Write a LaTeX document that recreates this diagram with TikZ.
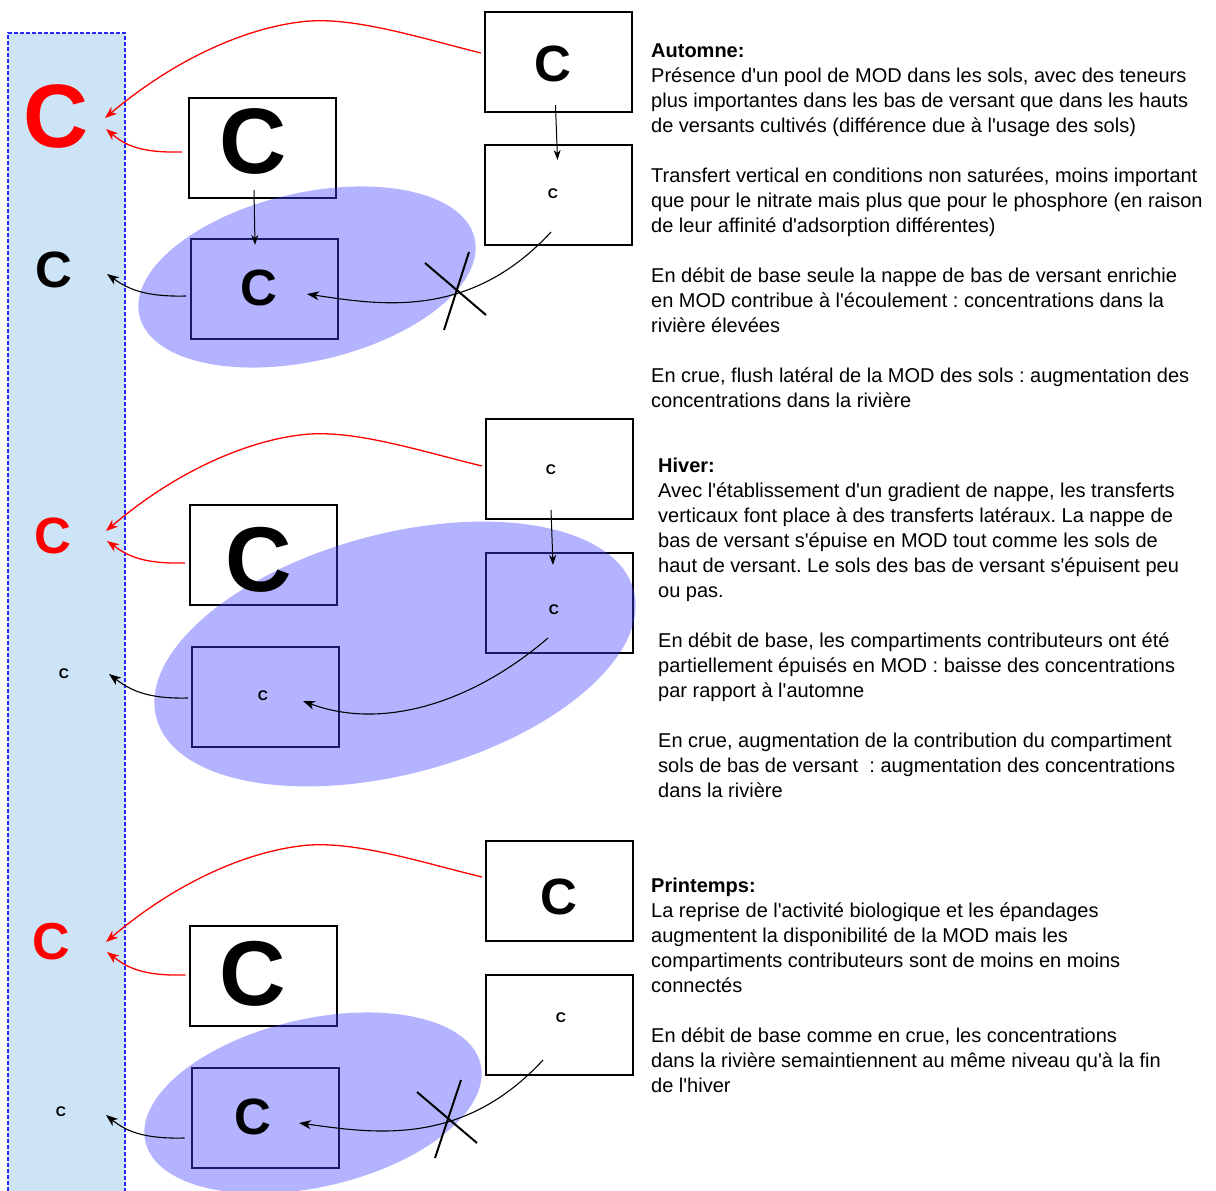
\documentclass[tikz,border=0pt]{standalone}
\usepackage{fontspec}
\setmainfont{Liberation Sans}[Ligatures=TeXOff]
\usetikzlibrary{arrows.meta,positioning}
\definecolor{river}{HTML}{CCE4F5}
\definecolor{nappe}{HTML}{4040FF}
\definecolor{flush}{HTML}{FF0000}
\frenchspacing

\begin{document}
\begin{tikzpicture}[x=1pt, y=-1pt, every node/.style={inner sep=0pt},
  box/.style={draw, line width=2pt, minimum width=147pt, minimum height=100pt},
  cc/.style={font=\fontsize{#1}{#1}\selectfont\bfseries},
  red arr/.style={flush, line width=1.3pt, -{Stealth[length=12pt, width=9pt, inset=3.5pt]}},
  blk arr/.style={line width=1.1pt, -{Stealth[length=12pt, width=9pt, inset=3.5pt]}},
  down arr/.style={line width=1pt, -{Stealth[length=10pt, width=7pt, inset=3pt]}},
  zone/.style={fill=nappe, fill opacity=0.4},
  cross/.style={line width=2pt},
  txt/.style={anchor=base west, align=left, font=\fontsize{20}{25}\selectfont}]
\useasboundingbox (0,0) rectangle (1216,1191);

% river
\fill[river] (8,33) rectangle (125,1191);
\draw[blue!85!white, line width=1.1pt, dash pattern=on 4pt off 2pt] (8,1191) -- (8,33) -- (125,33) -- (125,1191);

% compartments
\node[box] (t1) at (558.5,62) {};
\node[box] (r1) at (558.5,195) {};
\node[box] (m1) at (262.5,148) {};
\node[box] (l1) at (264.5,289) {};
\node[box] (t2) at (559.5,469) {};
\node[box] (r2) at (559.5,603) {};
\node[box] (m2) at (263.5,555) {};
\node[box] (l2) at (265.5,697) {};
\node[box] (t3) at (559.5,891) {};
\node[box] (r3) at (559.5,1025) {};
\node[box] (m3) at (263,976) {};
\node[box] (l3) at (265,1118) {};

% saturated zones
\fill[zone, rotate around={13:(307,277)}] (307,277) ellipse [x radius=172, y radius=84];
\fill[zone, rotate around={15:(395,654)}] (395,654) ellipse [x radius=247, y radius=120];
\fill[zone, rotate around={13:(313,1103)}] (313,1103) ellipse [x radius=172, y radius=84];

% arrival points in the river
\coordinate (a1) at (105,118); \coordinate (b1) at (106,129); \coordinate (c1) at (107,274);
\coordinate (a2) at (106,531); \coordinate (b2) at (107,541); \coordinate (c2) at (109,674);
\coordinate (a3) at (106,942); \coordinate (b3) at (107,952); \coordinate (c3) at (106,1115);

% autumn
\draw[red arr] ([xshift=-3pt, yshift=9pt]t1.west) .. controls (420,38) and (350,15) .. (300,22) .. controls (250,28) and (180,55) .. (a1);
\draw[red arr] ([xshift=-6pt, yshift=-4pt]m1.west) .. controls (140,153) and (125,145) .. (b1);
\draw[blk arr] ([xshift=-4pt, yshift=-7pt]l1.west) .. controls (145,297) and (128,289) .. (c1);
\draw[down arr] ([xshift=-3pt, yshift=8pt]t1.south) -- ([xshift=-1pt, yshift=-16pt]r1.north);
\draw[down arr] ([xshift=-8.5pt, yshift=9pt]m1.south) -- ([xshift=-9.5pt, yshift=-7pt]l1.north);
\draw[blk arr] ([xshift=-7.5pt, yshift=-37pt]r1.center) .. controls (470,320) and (380,305) .. ([xshift=42.5pt, yshift=-5pt]l1.center);
\draw[cross] (425,263) -- (486,315); \draw[cross] (469,252) -- (444,330);

% winter
\draw[red arr] ([xshift=-3pt, yshift=3pt]t2.west) .. controls (420,451) and (350,428) .. (300,435) .. controls (250,441) and (180,468) .. (a2);
\draw[red arr] ([xshift=-4pt, yshift=-8pt]m2.west) .. controls (143,564) and (128,556) .. (b2);
\draw[blk arr] ([xshift=-3pt, yshift=-1pt]l2.west) .. controls (147,699) and (130,690) .. (c2);
\draw[down arr] ([xshift=-8.5pt, yshift=10pt]t2.south) -- ([xshift=-6.5pt, yshift=-13pt]r2.north);
\draw[blk arr] ([xshift=-11.5pt, yshift=-35pt]r2.center) .. controls (470,705) and (380,730) .. ([xshift=37.5pt, yshift=-4pt]l2.center);

% spring
\draw[red arr] ([xshift=-3pt, yshift=14pt]t3.west) .. controls (420,862) and (350,839) .. (300,846) .. controls (250,852) and (180,879) .. (a3);
\draw[red arr] ([xshift=-3pt, yshift=1pt]m3.west) .. controls (143,976) and (128,968) .. (b3);
\draw[blk arr] ([xshift=-6pt, yshift=-20pt]l3.west) .. controls (143,1139) and (126,1131) .. (c3);
\draw[blk arr] ([xshift=-16.5pt, yshift=-35pt]r3.center) .. controls (462,1148) and (372,1133) .. ([xshift=34pt, yshift=-5pt]l3.center);
\draw[cross] (417,1092) -- (477,1143); \draw[cross] (461,1080) -- (435,1158);

% concentrations
\node[cc=90, text=flush] (q1) at (56,116.5) {C};
\node[cc=51] (p1) at (54,270) {C};
\node[cc=51, text=flush] (q2) at (53,536) {C};
\node[cc=14] (p2) at (64,674) {C};
\node[cc=52, text=flush] (q3) at (51,942) {C};
\node[cc=14] (p3) at (61,1112) {C};
\node[cc=51] (ct1) at (553,64) {C};
\node[cc=14] (cr1) at (553,194) {C};
\node[cc=93] (cm1) at (253,141.5) {C};
\node[cc=51] (cl1) at (259,288) {C};
\node[cc=14] (ct2) at (551,470) {C};
\node[cc=14] (cr2) at (554,610) {C};
\node[cc=92] (cm2) at (259,560) {C};
\node[cc=14] (cl2) at (263,696) {C};
\node[cc=51] (ct3) at (559,897) {C};
\node[cc=14] (cr3) at (561,1018) {C};
\node[cc=92] (cm3) at (253,974) {C};
\node[cc=51] (cl3) at (253,1117) {C};

% seasons (base = last line)
\node[txt] (automne) at (651,407) {\textbf{Automne:}\\
Présence d'un pool de MOD dans les sols, avec des teneurs\\
plus importantes dans les bas de versant que dans les hauts\\
de versants cultivés (différence due à l'usage des sols)\\[25pt]
Transfert vertical en conditions non saturées, moins important\\
que pour le nitrate mais plus que pour le phosphore (en raison\\
de leur affinité d'adsorption différentes)\\[25pt]
En débit de base seule la nappe de bas de versant enrichie\\
en MOD contribue à l'écoulement : concentrations dans la\\
rivière élevées\\[25pt]
En crue, flush latéral de la MOD des sols : augmentation des\\
concentrations dans la rivière};
\node[txt] (hiver) at (658,797) {\textbf{Hiver:}\\
Avec l'établissement d'un gradient de nappe, les transferts\\
verticaux font place à des transferts latéraux. La nappe de\\
bas de versant s'épuise en MOD tout comme les sols de\\
haut de versant. Le sols des bas de versant s'épuisent peu\\
ou pas.\\[25pt]
En débit de base, les compartiments contributeurs ont été\\
partiellement épuisés en MOD : baisse des concentrations\\
par rapport à l'automne\\[25pt]
En crue, augmentation de la contribution du compartiment\\
sols de bas de versant~ : augmentation des concentrations\\
dans la rivière};
\node[txt] (printemps) at (651,1092) {\textbf{Printemps:}\\
La reprise de l'activité biologique et les épandages\\
augmentent la disponibilité de la MOD mais les\\
compartiments contributeurs sont de moins en moins\\
connectés\\[25pt]
En débit de base comme en crue, les concentrations\\
dans la rivière semaintiennent au même niveau qu'à la fin\\
de l'hiver};
\end{tikzpicture}
\end{document}
